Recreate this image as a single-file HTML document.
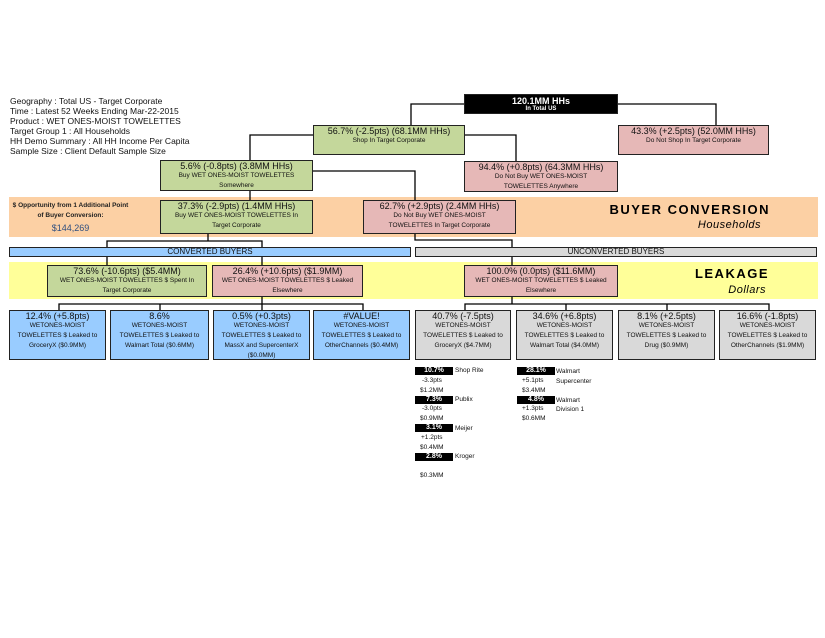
<!DOCTYPE html>
<html><head><meta charset="utf-8"><style>
body{margin:0;width:825px;height:638px;background:#fff;position:relative;font-family:"Liberation Sans",Arial,sans-serif;overflow:hidden}
.a{position:absolute}
.bx{position:absolute;box-sizing:border-box;border:1.5px solid #222;text-align:center;color:#111;line-height:1;overflow:hidden}
.t{font-size:9px;margin-top:1px}
.s{font-size:6.5px;line-height:10px}
.g{background:#c4d79b}.p{background:#e6b8b7}.bl{background:#99ccff}.gr{background:#d9d9d9}
.blk{position:absolute;background:#000;color:#fff;font-size:7px;font-weight:bold;text-align:center;height:8px;line-height:8px;width:38px}
.sm{position:absolute;font-size:6.5px;color:#111}
</style></head><body>
<div class="a" style="left:10px;top:96px;font-size:8.5px;line-height:10px;color:#111">
Geography : Total US - Target Corporate<br>Time : Latest 52 Weeks Ending Mar-22-2015<br>Product : WET ONES-MOIST TOWELETTES<br>Target Group 1 : All Households<br>HH Demo Summary : All HH Income Per Capita<br>Sample Size : Client Default Sample Size</div>

<div class="a" style="left:9px;top:197px;width:809px;height:40px;background:#fcd0a4"></div>
<div class="a" style="left:9px;top:262px;width:809px;height:37px;background:#ffff99"></div>

<svg class="a" style="left:0;top:0" width="825" height="638">
<g stroke="#000" stroke-width="1.3" fill="none">
<polyline points="464,104 411,104 411,125"/>
<polyline points="618,104 716,104 716,125"/>
<polyline points="313,135 250,135 250,161"/>
<polyline points="465,135 516,135 516,161"/>
<polyline points="250,191 250,200"/>
<polyline points="313,171 415,171 415,200"/>
<polyline points="208,234 208,241"/>
<polyline points="107,247 107,241 262,241 262,247"/>
<polyline points="415,234 415,240 512,240 512,247"/>
<polyline points="107,257 107,265"/>
<polyline points="262,257 262,265"/>
<polyline points="512,257 512,265"/>
<polyline points="262,297 262,304"/>
<polyline points="59,310 59,304 363,304 363,310"/>
<polyline points="160,304 160,310"/>
<polyline points="262,304 262,310"/>
<polyline points="512,297 512,304"/>
<polyline points="465,310 465,304 769,304 769,310"/>
<polyline points="566,304 566,310"/>
<polyline points="667,304 667,310"/>
</g></svg>

<div class="bx" style="left:464px;top:94px;width:154px;height:20px;background:#000;color:#fff"><div class="t" style="font-weight:bold;margin-top:2px">120.1MM HHs</div><div style="font-size:6px;font-weight:bold">In Total US</div></div>
<div class="bx g" style="left:313px;top:125px;width:152px;height:30px"><div class="t">56.7% (-2.5pts) (68.1MM HHs)</div><div class="s">Shop In Target Corporate</div></div>
<div class="bx p" style="left:618px;top:125px;width:151px;height:30px"><div class="t">43.3% (+2.5pts) (52.0MM HHs)</div><div class="s">Do Not Shop In Target Corporate</div></div>
<div class="bx g" style="left:160px;top:160px;width:153px;height:31px"><div class="t">5.6% (-0.8pts) (3.8MM HHs)</div><div class="s">Buy WET ONES-MOIST TOWELETTES<br>Somewhere</div></div>
<div class="bx p" style="left:464px;top:161px;width:154px;height:31px"><div class="t">94.4% (+0.8pts) (64.3MM HHs)</div><div class="s">Do Not Buy WET ONES-MOIST<br>TOWELETTES Anywhere</div></div>

<div class="a" style="left:9px;top:201px;width:123px;text-align:center;font-size:6.5px;font-weight:bold;line-height:10px;color:#222">$ Opportunity from 1 Additional Point<br>of Buyer Conversion:</div>
<div class="a" style="left:9px;top:223px;width:123px;text-align:center;font-size:9px;color:#2f4f7f">$144,269</div>
<div class="bx g" style="left:160px;top:200px;width:153px;height:34px"><div class="t">37.3% (-2.9pts) (1.4MM HHs)</div><div class="s">Buy WET ONES-MOIST TOWELETTES In<br>Target Corporate</div></div>
<div class="bx p" style="left:363px;top:200px;width:153px;height:34px"><div class="t">62.7% (+2.9pts) (2.4MM HHs)</div><div class="s">Do Not Buy WET ONES-MOIST<br>TOWELETTES In Target Corporate</div></div>
<div class="a" style="left:600px;top:202px;width:170px;text-align:right;font-size:13px;font-weight:bold;letter-spacing:1.5px">BUYER CONVERSION</div>
<div class="a" style="left:600px;top:219px;width:161px;text-align:right;font-size:11px;font-style:italic;letter-spacing:.5px">Households</div>

<div class="bx bl" style="left:9px;top:247px;width:402px;height:10px;border-width:1px"><div style="font-size:8px;line-height:8px">CONVERTED BUYERS</div></div>
<div class="bx gr" style="left:415px;top:247px;width:402px;height:10px;border-width:1px"><div style="font-size:8px;line-height:8px">UNCONVERTED BUYERS</div></div>

<div class="bx g" style="left:47px;top:265px;width:160px;height:32px"><div class="t">73.6% (-10.6pts) ($5.4MM)</div><div class="s">WET ONES-MOIST TOWELETTES $ Spent In<br>Target Corporate</div></div>
<div class="bx p" style="left:212px;top:265px;width:151px;height:32px"><div class="t">26.4% (+10.6pts) ($1.9MM)</div><div class="s" style="white-space:nowrap">WET ONES-MOIST TOWELETTES $ Leaked<br>Elsewhere</div></div>
<div class="bx p" style="left:464px;top:265px;width:154px;height:32px"><div class="t">100.0% (0.0pts) ($11.6MM)</div><div class="s">WET ONES-MOIST TOWELETTES $ Leaked<br>Elsewhere</div></div>
<div class="a" style="left:650px;top:266px;width:119px;text-align:right;font-size:13px;font-weight:bold;letter-spacing:1.5px">LEAKAGE</div>
<div class="a" style="left:650px;top:284px;width:116px;text-align:right;font-size:11px;font-style:italic;letter-spacing:.5px">Dollars</div>

<div class="bx bl" style="left:9px;top:310px;width:97px;height:50px"><div class="t">12.4% (+5.8pts)</div><div class="s">WETONES-MOIST<br>TOWELETTES $ Leaked to<br>GroceryX ($0.9MM)</div></div>
<div class="bx bl" style="left:110px;top:310px;width:99px;height:50px"><div class="t">8.6%</div><div class="s">WETONES-MOIST<br>TOWELETTES $ Leaked to<br>Walmart Total ($0.6MM)</div></div>
<div class="bx bl" style="left:213px;top:310px;width:97px;height:50px"><div class="t">0.5% (+0.3pts)</div><div class="s">WETONES-MOIST<br>TOWELETTES $ Leaked to<br>MassX and SupercenterX<br>($0.0MM)</div></div>
<div class="bx bl" style="left:313px;top:310px;width:97px;height:50px"><div class="t">#VALUE!</div><div class="s">WETONES-MOIST<br>TOWELETTES $ Leaked to<br>OtherChannels ($0.4MM)</div></div>
<div class="bx gr" style="left:415px;top:310px;width:96px;height:50px"><div class="t">40.7% (-7.5pts)</div><div class="s">WETONES-MOIST<br>TOWELETTES $ Leaked to<br>GroceryX ($4.7MM)</div></div>
<div class="bx gr" style="left:516px;top:310px;width:97px;height:50px"><div class="t">34.6% (+6.8pts)</div><div class="s">WETONES-MOIST<br>TOWELETTES $ Leaked to<br>Walmart Total ($4.0MM)</div></div>
<div class="bx gr" style="left:618px;top:310px;width:97px;height:50px"><div class="t">8.1% (+2.5pts)</div><div class="s">WETONES-MOIST<br>TOWELETTES $ Leaked to<br>Drug ($0.9MM)</div></div>
<div class="bx gr" style="left:719px;top:310px;width:97px;height:50px"><div class="t">16.6% (-1.8pts)</div><div class="s">WETONES-MOIST<br>TOWELETTES $ Leaked to<br>OtherChannels ($1.9MM)</div></div>

<div class="blk" style="left:415px;top:367px">10.7%</div><div class="sm" style="left:455px;top:367px">Shop Rite</div>
<div class="sm" style="left:422px;top:377px">-3.3pts</div><div class="sm" style="left:420px;top:387px">$1.2MM</div>
<div class="blk" style="left:415px;top:396px">7.3%</div><div class="sm" style="left:455px;top:396px">Publix</div>
<div class="sm" style="left:422px;top:405px">-3.0pts</div><div class="sm" style="left:420px;top:415px">$0.9MM</div>
<div class="blk" style="left:415px;top:424px">3.1%</div><div class="sm" style="left:455px;top:425px">Meijer</div>
<div class="sm" style="left:421px;top:434px">+1.2pts</div><div class="sm" style="left:420px;top:444px">$0.4MM</div>
<div class="blk" style="left:415px;top:453px">2.8%</div><div class="sm" style="left:455px;top:453px">Kroger</div>
<div class="sm" style="left:420px;top:472px">$0.3MM</div>

<div class="blk" style="left:517px;top:367px">28.1%</div><div class="sm" style="left:556px;top:368px">Walmart</div>
<div class="sm" style="left:522px;top:377px">+5.1pts</div><div class="sm" style="left:556px;top:378px">Supercenter</div><div class="sm" style="left:522px;top:387px">$3.4MM</div>
<div class="blk" style="left:517px;top:396px">4.8%</div><div class="sm" style="left:556px;top:397px">Walmart</div>
<div class="sm" style="left:522px;top:405px">+1.3pts</div><div class="sm" style="left:556px;top:406px">Division 1</div><div class="sm" style="left:522px;top:415px">$0.6MM</div>
</body></html>
